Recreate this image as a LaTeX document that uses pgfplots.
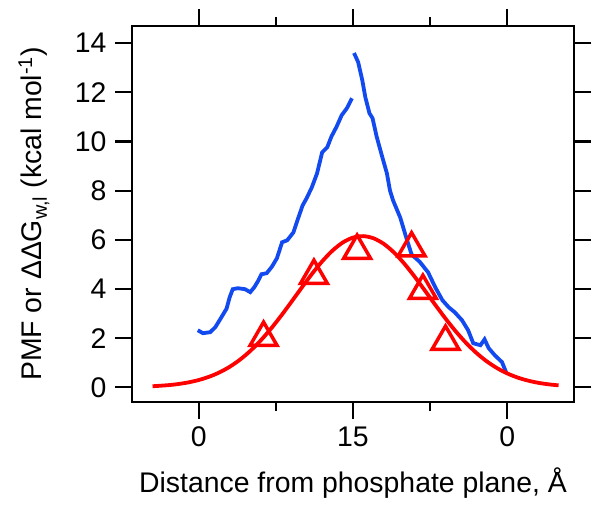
\documentclass[border=0pt]{standalone}
\usepackage{fontspec}
\setmainfont{Liberation Sans}
\usepackage{pgfplots}
\pgfplotsset{compat=1.18}

\definecolor{pmfblue}{RGB}{18,74,240}
\definecolor{fitred}{RGB}{255,0,0}

\begin{document}
\begin{tikzpicture}
\begin{axis}[
    at={(132bp,106bp)}, anchor=south west,
    scale only axis,
    width=442bp, height=376bp,
    xmin=-6.5, xmax=36.5,
    ymin=-0.6, ymax=14.7,
    xtick={0,15,30}, xticklabels={0,15,0},
    minor xtick={7.5,22.5},
    ytick={0,2,...,14},
    tick align=outside,
    major tick length=17bp, minor tick length=9bp,
    axis line style={line width=2.2bp},
    every tick/.style={line width=2.2bp, black},
    /pgf/number format/assume math mode=true,
    tick label style={font=\fontsize{28.5}{30}\selectfont},
    yticklabel style={xshift=-5bp},
    xticklabel style={yshift=-4bp},
    clip=false,
]
% PMF, inner half of the bilayer
\addplot[pmfblue, line width=3.8bp] coordinates {
    (-0.1,2.32) (0.4,2.2) (1.1,2.24) (1.6,2.44) (2.2,2.85) (2.7,3.2)
    (3.0,3.66) (3.3,3.99) (3.8,4.03) (4.5,3.99) (5.0,3.87) (5.4,4.07)
    (5.8,4.35) (6.1,4.6) (6.6,4.64) (7.1,4.9) (7.6,5.25) (8.1,5.9)
    (8.6,5.98) (9.2,6.3) (9.6,6.8) (10.1,7.4) (10.5,7.7) (11.0,8.14)
    (11.5,8.7) (12.0,9.56) (12.5,9.77) (12.9,10.2) (13.4,10.6)
    (13.9,11.07) (14.4,11.35) (14.9,11.76)
};
% PMF, outer half
\addplot[pmfblue, line width=3.8bp] coordinates {
    (15.1,13.6) (15.5,13.23) (15.9,12.5) (16.2,11.8) (16.6,11.15)
    (16.9,10.95) (17.3,10.2) (17.8,9.44) (18.3,8.7) (18.6,8.0)
    (18.9,7.6) (19.6,6.9) (20.1,6.2) (20.7,5.4) (21.5,5.1) (22.3,4.68)
    (23.0,4.07) (23.7,3.54) (24.3,3.26) (24.9,3.05) (25.6,2.73)
    (26.2,2.32) (26.7,1.79) (27.4,1.71) (27.8,1.95) (28.2,1.59)
    (28.8,1.3) (29.5,1.02) (29.9,0.6)
};
% Gaussian fit
\addplot[fitred, line width=3.8bp, smooth] coordinates {
    (-4.5,0.041) (-3,0.084) (-2,0.131) (-1,0.199) (0,0.295) (1,0.427)
    (2,0.603) (3,0.832) (4,1.121) (5,1.475) (6,1.894) (7,2.374)
    (8,2.905) (9,3.470) (10,4.047) (11,4.608) (12,5.122) (13,5.558)
    (14,5.889) (15,6.090) (16,6.149) (17,6.061) (18,5.833) (19,5.479)
    (20,5.025) (21,4.499) (22,3.932) (23,3.356) (24,2.795) (25,2.273)
    (26,1.804) (27,1.399) (28,1.058) (29,0.782) (30,0.564) (31,0.397)
    (32,0.273) (33,0.183) (34,0.120) (35,0.077)
};
% ddG_w,l
\addplot[only marks, mark=triangle, fitred,
    mark size=15.5bp, mark options={line width=3.5bp, fitred}] coordinates {
    (6.3,2.02) (11.2,4.54) (15.4,5.56) (20.7,5.66) (21.8,3.93) (24.0,1.86)
};
\end{axis}
\node[rotate=90, anchor=base, font=\fontsize{28.5}{30}\selectfont]
    at (41bp,294bp) {PMF or ΔΔG\textsubscript{w,l} (kcal mol\textsuperscript{-1})};
\node[anchor=base, font=\fontsize{28.5}{30}\selectfont]
    at (353bp,16bp) {Distance from phosphate plane, Å};
\pgfresetboundingbox
\path (0,0) rectangle (602bp,508bp);
\end{tikzpicture}
\end{document}
